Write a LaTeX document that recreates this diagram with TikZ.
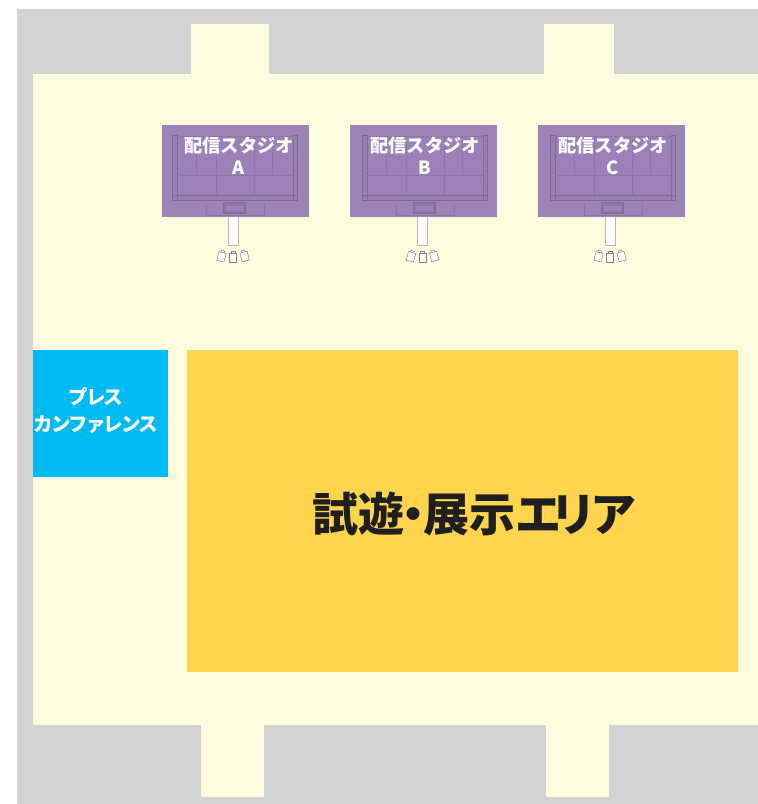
\documentclass[tikz,border=0pt]{standalone}
\usepackage{fontspec}
\newfontfamily\cjk{Noto Sans CJK JP}
\definecolor{wallgrey}{HTML}{D1D3D4}
\definecolor{floor}{HTML}{FFFBDF}
\definecolor{pressblue}{HTML}{00BBF1}
\definecolor{areagold}{HTML}{FFD44F}
\definecolor{studio}{HTML}{9D84B7}
\definecolor{studioin}{HTML}{9C80B9}
\definecolor{truss}{HTML}{7D6C94}
\definecolor{gridl}{HTML}{8B78A3}
\definecolor{rungrey}{HTML}{B5B5B5}
\definecolor{bagline}{HTML}{808080}
\tikzset{
  fl/.style={fill=floor,draw=none},
  label/.style={font=\cjk\bfseries,text=white,inner sep=0pt,align=center},
  trussline/.style={draw=truss,line width=0.6pt},
  thinl/.style={draw=gridl,line width=0.4pt},
  zig/.style={draw=gridl,line width=0.35pt},
  bag/.style={draw=bagline,fill=white!92!floor,line width=0.5pt,line join=round},
}
\newcommand{\studioplan}[5]{%
 \begin{scope}[shift={(#1,0)}]
  \fill[studio] (162.3,124.5) rectangle (309,216.8);
 \end{scope}
 \begin{scope}[shift={(#2,0)}]
  \fill[studioin] (172.5,135) rectangle (297.5,198);
  \draw[trussline] (172.5,135.5) rectangle (177,200);
  \draw[trussline] (293,135.5) rectangle (297.5,200);
  \draw[trussline] (172.5,195) rectangle (297.5,200);
  \draw[thinl] (177,136.5) -- (293,136.5);
  \foreach \xx in {172.5,177.5,...,290} {\draw[zig] (\xx,199.5) -- (\xx+2.5,195.5) -- (\xx+5,199.5);}
  \foreach \yy in {136,141,...,190} {
    \draw[zig] (173,\yy) -- (176.5,\yy+2.5) -- (173,\yy+5);
    \draw[zig] (297,\yy) -- (293.5,\yy+2.5) -- (297,\yy+5);}
  \draw[thinl] (177,175) -- (293,175);
  \foreach \xx in {195.7,215.7,253.7,272.3} {\draw[thinl] (\xx,137) -- (\xx,175);}
  \foreach \xx in {215.7,253.7} {\draw[thinl] (\xx,175) -- (\xx,195);}
  \draw[thinl,line width=0.7pt] (206.3,202.5) -- (206.3,215.3) -- (264.3,215.3) -- (264.3,202.5);
  \draw[draw=truss,line width=1pt,fill=truss!45!studioin] (223.5,202.8) rectangle (245.8,213.3);
  \fill[studioin] (226,206) rectangle (243.3,211);
 \end{scope}
 \begin{scope}[shift={(#3,0)}]
  \fill[white!95!wallgrey] (228.3,217) rectangle (238.3,245.3);
  \draw[draw=rungrey,line width=0.8pt] (228.3,217) -- (228.3,245.3) -- (238.3,245.3) -- (238.3,217);
  \foreach \xx/\yy/\rr in {221.6/256.3/-15,233/256.8/0,244.5/256/15} {
   \begin{scope}[shift={(\xx,\yy)},rotate=\rr]
    \draw[bag] (-1.8,-3.9) -- (-1.8,-5.8) -- (1.8,-5.8) -- (1.8,-3.9);
    \draw[bag] (-3.7,-3.9) -- (3.7,-3.9) -- (3.7,5) -- (-3.7,5) -- cycle;
   \end{scope}}
 \end{scope}
 \node[label,font=\cjk\bfseries\fontsize{18.2pt}{20pt}\selectfont] (title#4) at (#5,145.5) {配信スタジオ};
 \node[label,font=\cjk\bfseries\fontsize{18.2pt}{20pt}\selectfont] (letter#4) at (#5,167.5) {#4};
}
\begin{document}
\begin{tikzpicture}[x=1pt,y=-1pt]
\useasboundingbox (0,0) rectangle (758,804);
\fill[white] (0,0) rectangle (758,804);
\fill[wallgrey] (17,9) rectangle (758,804);
\fill[fl] (32.5,74) rectangle (758,725);
\fill[fl] (191,24) rectangle (269,74.5);
\fill[fl] (544,24) rectangle (614,74.5);
\fill[fl] (201,724.5) rectangle (264,797);
\fill[fl] (546,724.5) rectangle (609,797);
\node[fill=pressblue,minimum width=135.5pt,minimum height=127pt,inner sep=0pt,anchor=north west] (press) at (32.5,350) {};
\node[label,font=\cjk\bfseries\fontsize{19.5pt}{27pt}\selectfont\addfontfeature{LetterSpace=-9.5}] (presstext) at (96,411) {プレス\\[0pt]カンファレンス};
\node[fill=areagold,minimum width=551pt,minimum height=322pt,inner sep=0pt,anchor=north west] (area) at (187,350) {};
\node[inner sep=0pt,text=black!88,anchor=west,font=\cjk\bfseries\fontsize{46pt}{48pt}\selectfont] (areatext) at (312,514) {試遊\kern-0.3em・\kern-0.28em展示エ\kern-0.24emリ\kern-0.12emア};
\studioplan{0}{0}{0}{A}{239}
\studioplan{188}{190}{189.5}{B}{425}
\studioplan{376}{378}{377}{C}{613}
\end{tikzpicture}
\end{document}
